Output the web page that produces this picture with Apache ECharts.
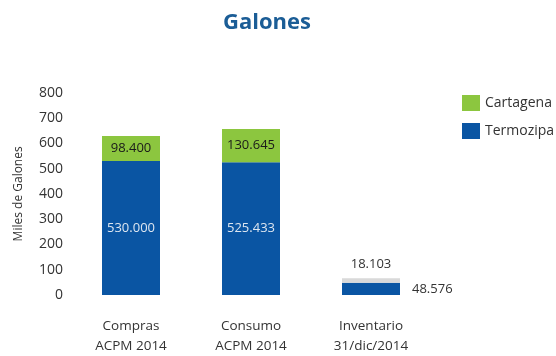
<!DOCTYPE html>
<html>
<head>
<meta charset="utf-8">
<script src="https://cdn.jsdelivr.net/npm/echarts@6/dist/echarts.min.js"></script>
<style>
  html, body { margin: 0; padding: 0; background: #fff; }
  #chart { width: 556px; height: 356px; }
</style>
</head>
<body>
<div id="chart"></div>
<script>
// Fuel volumes (thousands of gallons) by plant
const categories = ['Compras\nACPM 2014', 'Consumo\nACPM 2014', 'Inventario\n31/dic/2014'];
const termozipa = [530.000, 525.433, 48.576];
const cartagena = [98.400, 130.645, 18.103];
const yTicks = [0, 100, 200, 300, 400, 500, 600, 700, 800];

const FONT = '"Open Sans", "Noto Sans", sans-serif';
const fmt = v => Number(v).toFixed(3);

const chart = echarts.init(document.getElementById('chart'), null, { renderer: 'canvas' });

chart.setOption({
  animation: false,
  title: {
    text: 'Galones',
    left: 262,
    top: 7,
    textAlign: 'center',
    textStyle: { fontFamily: FONT, fontSize: 22, fontWeight: 'bold', color: '#1b5d96' }
  },
  legend: {
    orient: 'vertical',
    left: 457,
    top: 90,
    itemWidth: 18,
    itemHeight: 16,
    itemGap: 12,
    icon: 'rect',
    textStyle: { fontFamily: FONT, fontSize: 14, color: '#333' },
    data: ['Cartagena', 'Termozipa']
  },
  grid: { left: 71, right: 125, top: 92.7, bottom: 58, containLabel: false },
  xAxis: {
    type: 'category',
    data: categories,
    axisLine: { show: false },
    axisTick: { show: false },
    axisLabel: { fontFamily: FONT, fontSize: 13.5, color: '#333', margin: 21, lineHeight: 20 }
  },
  yAxis: {
    type: 'value',
    min: yTicks[0],
    max: yTicks[yTicks.length - 1],
    interval: 100,
    name: 'Miles de Galones',
    nameLocation: 'middle',
    nameGap: 46,
    nameRotate: 90,
    nameTextStyle: { fontFamily: FONT, fontSize: 12, color: '#333' },
    axisLine: { show: false },
    axisTick: { show: false },
    splitLine: { show: false },
    axisLabel: { fontFamily: FONT, fontSize: 14, color: '#333', margin: 8 }
  },
  series: [
    {
      name: 'Termozipa',
      type: 'bar',
      stack: 'total',
      barWidth: 58,
      itemStyle: { color: '#0a55a3' },
      data: termozipa.map((v, i) => ({
        value: v,
        label: i === 2
          ? { show: true, position: 'right', distance: 12, color: '#333' }
          : { show: true, position: 'inside', color: '#dde6f0' }
      })),
      label: { fontFamily: FONT, fontSize: 13, formatter: p => fmt(p.value) }
    },
    {
      name: 'Cartagena',
      type: 'bar',
      stack: 'total',
      barWidth: 58,
      itemStyle: { color: '#8cc63f' },
      data: cartagena.map((v, i) => ({
        value: v,
        itemStyle: i === 2 ? { color: '#d9d9d9' } : undefined,
        label: i === 2
          ? { show: true, position: 'top', distance: 7, color: '#333' }
          : { show: true, position: 'inside', color: '#1a1a1a' }
      })),
      label: { fontFamily: FONT, fontSize: 13, formatter: p => fmt(p.value) }
    }
  ]
});
</script>
</body>
</html>
